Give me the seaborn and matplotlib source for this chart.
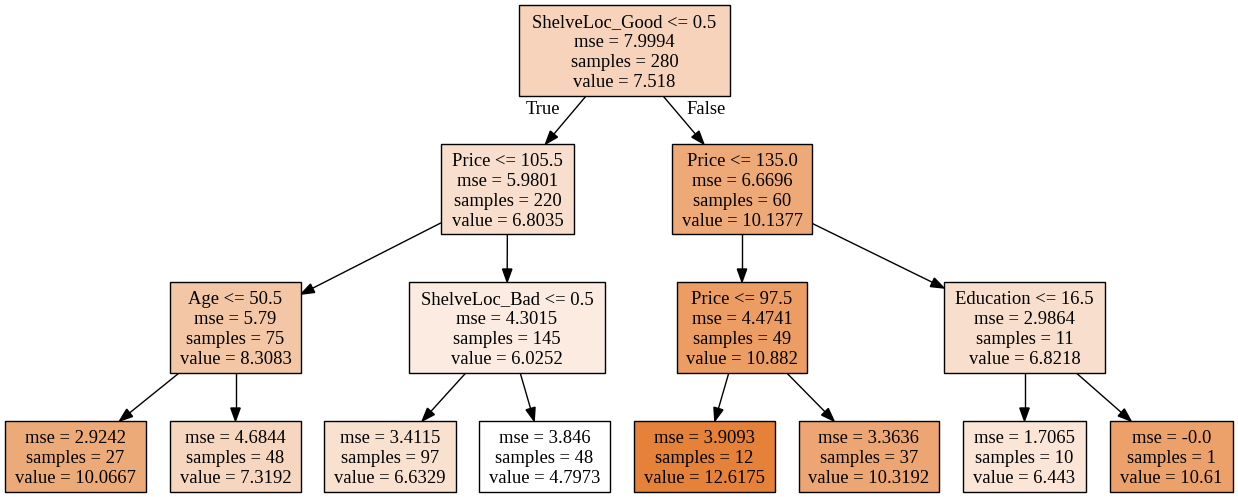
import numpy as np
import matplotlib
matplotlib.use("Agg")
import matplotlib.pyplot as plt
from matplotlib.patches import Rectangle, Polygon
import seaborn as sns

# ---------------- data (regression tree, preorder) ----------------
split_rules = ["ShelveLoc_Good <= 0.5", "Price <= 105.5", "Age <= 50.5", None, None,
               "ShelveLoc_Bad <= 0.5", None, None, "Price <= 135.0", "Price <= 97.5",
               None, None, "Education <= 16.5", None, None]
mse_values = [7.9994, 5.9801, 5.79, 2.9242, 4.6844, 4.3015, 3.4115, 3.846,
              6.6696, 4.4741, 3.9093, 3.3636, 2.9864, 1.7065, -0.0]
sample_counts = [280, 220, 75, 27, 48, 145, 97, 48, 60, 49, 12, 37, 11, 10, 1]
node_values = [7.518, 6.8035, 8.3083, 10.0667, 7.3192, 6.0252, 6.6329, 4.7973,
               10.1377, 10.882, 12.6175, 10.3192, 6.8218, 6.443, 10.61]
children_left = [1, 2, 3, -1, -1, 6, -1, -1, 9, 10, -1, -1, 13, -1, -1]
children_right = [8, 5, 4, -1, -1, 7, -1, -1, 12, 11, -1, -1, 14, -1, -1]
edge_labels = ["True", "False"]

# ---------------- layout (pixel space of the graph drawing) ----------------
box_x0 = [519, 441, 170, 5, 170, 409, 324, 479, 672, 677, 634, 799, 944, 963, 1110]
box_x1 = [730, 574, 301, 146, 301, 605, 456, 610, 812, 807, 775, 939, 1105, 1086, 1233]
level_top = [5, 144, 282, 421]
level_bottom = [96, 234, 373, 492]
line_gap = 20
arrow_len = 13
arrow_half = 4.7

W, H = 1238, 497
sns.set_theme(style="white")
plt.rcParams["font.family"] = ["Liberation Serif", "DejaVu Serif"]

fig = plt.figure(figsize=(W / 100, H / 100), dpi=100)
ax = fig.add_axes([0, 0, 1, 1])
ax.set_xlim(0, W)
ax.set_ylim(H, 0)
ax.axis("off")

cmap = sns.blend_palette(["#ffffff", "#e58139"], as_cmap=True)
vmin, vmax = min(node_values), max(node_values)

# depth of each node
depth = [0] * len(node_values)
for i in range(len(node_values)):
    for c in (children_left[i], children_right[i]):
        if c >= 0:
            depth[c] = depth[i] + 1


def box(i):
    x0, x1 = box_x0[i], box_x1[i]
    y0, y1 = level_top[depth[i]], level_bottom[depth[i]]
    return x0, y0, x1, y1


def center(i):
    x0, y0, x1, y1 = box(i)
    return (x0 + x1) / 2, (y0 + y1) / 2, (x1 - x0) / 2, (y1 - y0) / 2


def clip(i, d):
    cx, cy, hw, hh = center(i)
    dx, dy = d
    ts = []
    if abs(dx) > 1e-9:
        ts.append(hw / abs(dx))
    if abs(dy) > 1e-9:
        ts.append(hh / abs(dy))
    t = min(ts)
    return np.array([cx + t * dx, cy + t * dy])


# nodes
for i in range(len(node_values)):
    x0, y0, x1, y1 = box(i)
    a = (node_values[i] - vmin) / (vmax - vmin)
    ax.add_patch(Rectangle((x0, y0), x1 - x0, y1 - y0, facecolor=cmap(a),
                           edgecolor="black", linewidth=1.0, zorder=2))
    lines = []
    if split_rules[i] is not None:
        lines.append(split_rules[i])
    lines += [f"mse = {mse_values[i]}", f"samples = {sample_counts[i]}",
              f"value = {node_values[i]}"]
    cx, cy, _, _ = center(i)
    n = len(lines)
    for k, s in enumerate(lines):
        ax.text(cx, cy + (k - (n - 1) / 2) * line_gap, s, ha="center",
                va="center_baseline", fontsize=13.4, color="black", zorder=3)

# edges
for p in range(len(node_values)):
    for side, c in enumerate((children_left[p], children_right[p])):
        if c < 0:
            continue
        pc = np.array(center(p)[:2])
        cc = np.array(center(c)[:2])
        d = cc - pc
        start = clip(p, d)
        tip = clip(c, -d)
        u = (tip - start) / np.linalg.norm(tip - start)
        base = tip - u * arrow_len
        nrm = np.array([-u[1], u[0]])
        ax.plot([start[0], base[0]], [start[1], base[1]], color="black",
                linewidth=1.0, zorder=1, solid_capstyle="butt")
        ax.add_patch(Polygon([tip, base + nrm * arrow_half, base - nrm * arrow_half],
                             closed=True, facecolor="black", edgecolor="black",
                             linewidth=1.0, zorder=1))
        if p == 0:
            sgn = -1 if side == 0 else 1
            ax.text(start[0] + sgn * 43, start[1] + 12, edge_labels[side],
                    ha="center", va="center_baseline", fontsize=13.4, color="black")

fig.savefig("out.png", dpi=100, facecolor="white")
